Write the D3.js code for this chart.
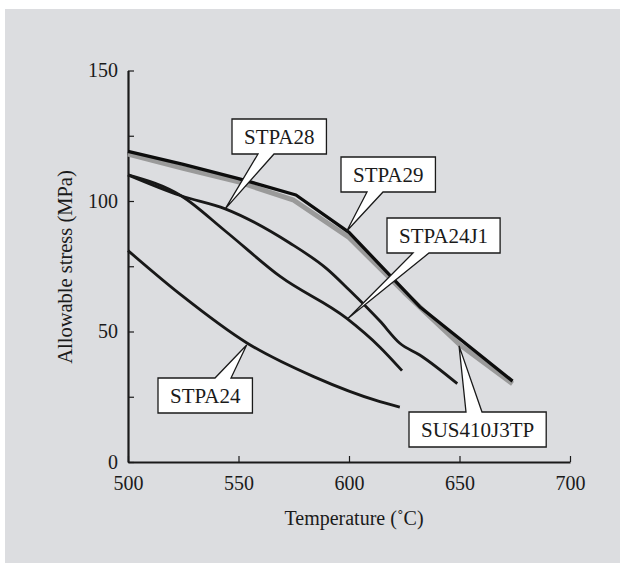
<!DOCTYPE html>
<html>
<head>
<meta charset="utf-8">
<script src="https://d3js.org/d3.v7.min.js"></script>
<style>
  body { margin: 0; background: #fff; }
  text { font-family: "Liberation Serif", "Times New Roman", serif; fill: #1a1a1a; }
</style>
</head>
<body>
<div id="chart"></div>
<script>
// Temperatures and allowable stress (MPa)
var sus410Temp = [500, 525, 550, 575, 600, 625, 650, 674];
var sus410Stress = [118, 112.5, 107.3, 100.3, 86, 65, 45, 30];

var stpa29Temp = [500, 525, 550, 576, 600, 632, 674];
var stpa29Stress = [119, 114, 108.6, 102.3, 88, 59.5, 31];

var stpa28Temp = [500, 524, 544, 573, 590, 600, 614, 623, 632, 649];
var stpa28Stress = [110, 102, 97, 84, 74, 66, 54, 45.5, 41, 30];

var stpa24j1Temp = [500, 524, 544, 569, 599, 614, 624];
var stpa24j1Stress = [110, 102, 88.5, 71, 55, 44, 35];

var stpa24Temp = [500, 524, 554, 584, 614, 623];
var stpa24Stress = [81, 64, 45.5, 32.7, 23.1, 21];

var xTicks = [500, 550, 600, 650, 700];
var yTicks = [0, 25, 50, 75, 100, 125, 150];

// callout labels: name, where the pointer touches the line (temp, stress)
var labelNames = ["STPA28", "STPA29", "STPA24J1", "STPA24", "SUS410J3TP"];
var labelTipTemp = [544, 599, 599.5, 553.7, 649.8];
var labelTipStress = [97, 88.5, 55, 44.8, 44.5];

function init() {
  var w = 620;
  var h = 563;

  var svg = d3.select("#chart")
    .append("svg")
    .attr("width", w)
    .attr("height", h);

  // gray panel
  svg.append("rect")
    .attr("x", 5)
    .attr("y", 9)
    .attr("width", w - 5)
    .attr("height", h - 9)
    .attr("fill", "#dcdde0");

  //Set up Scales
  var xScale = d3.scaleLinear()
    .domain([500, 700])
    .range([128, 570]);
  var yScale = d3.scaleLinear()
    .domain([0, 150])
    .range([462, 70.5]);

  // zip arrays into point lists
  function pts(t, s) {
    return t.map(function (d, i) { return { t: d, s: s[i] }; });
  }

  var series = [
    { pts: pts(sus410Temp, sus410Stress), color: "#9a9a9a", width: 5, curve: d3.curveLinear },
    { pts: pts(stpa29Temp, stpa29Stress), color: "#0d0d0d", width: 3.3, curve: d3.curveLinear },
    { pts: pts(stpa28Temp, stpa28Stress), color: "#181818", width: 2.8, curve: d3.curveMonotoneX },
    { pts: pts(stpa24j1Temp, stpa24j1Stress), color: "#181818", width: 2.8, curve: d3.curveMonotoneX },
    { pts: pts(stpa24Temp, stpa24Stress), color: "#181818", width: 2.8, curve: d3.curveMonotoneX }
  ];

  //Add axes
  var xAxis = d3.axisBottom(xScale)
    .tickValues(xTicks)
    .tickSize(-6)
    .tickSizeOuter(0)
    .tickPadding(14);
  var gx = svg.append("g")
    .attr("transform", "translate(0," + yScale(0) + ")")
    .call(xAxis);

  var yAxis = d3.axisLeft(yScale)
    .tickValues(yTicks)
    .tickSize(-6)
    .tickSizeOuter(0)
    .tickPadding(10)
    .tickFormat(function (d) { return d % 50 === 0 ? d : ""; });
  var gy = svg.append("g")
    .attr("transform", "translate(" + xScale(500) + ",0)")
    .call(yAxis);

  [gx, gy].forEach(function (g) {
    g.select(".domain").attr("stroke", "#1a1a1a").attr("stroke-width", 2.2);
    g.selectAll(".tick line").attr("stroke", "#1a1a1a").attr("stroke-width", 1.2);
    g.selectAll(".tick text")
      .attr("font-size", "20px")
      .attr("fill", "#1a1a1a");
  });

  // axis titles
  svg.append("text")
    .attr("x", 354)
    .attr("y", 525)
    .attr("text-anchor", "middle")
    .style("font-size", "20px")
    .text("Temperature (˚C)");

  svg.append("text")
    .attr("transform", "translate(72," + 267 + ") rotate(-90)")
    .attr("text-anchor", "middle")
    .style("font-size", "20.5px")
    .text("Allowable stress (MPa)");

  //Set up line
  series.forEach(function (s) {
    var line = d3.line()
      .curve(s.curve)
      .x(function (d) { return xScale(d.t); })
      .y(function (d) { return yScale(d.s); });
    svg.append("path")
      .datum(s.pts)
      .attr("fill", "none")
      .attr("stroke", s.color)
      .attr("stroke-width", s.width)
      .attr("stroke-linejoin", "round")
      .attr("d", line);
  });

  // callout boxes: box left/top, which side the wedge leaves, wedge base start
  var boxLayout = [
    { x: 232, y: 119, side: "bottom", b: 258 },
    { x: 341, y: 157, side: "bottom", b: 367 },
    { x: 387, y: 218, side: "bottom", b: 413 },
    { x: 158, y: 378, side: "top", b: 215 },
    { x: 409, y: 412, side: "top", b: 466 }
  ];
  var boxH = 35;
  var baseW = 16;

  labelNames.forEach(function (name, i) {
    var L = boxLayout[i];
    var g = svg.append("g");
    var txt = g.append("text")
      .attr("y", L.y + boxH / 2)
      .attr("dy", "0.35em")
      .style("font-size", "21px")
      .text(name);
    var tw = txt.node().getComputedTextLength();
    var bw = tw + 24;
    txt.attr("x", L.x + bw / 2).attr("text-anchor", "middle");

    var tx = xScale(labelTipTemp[i]);
    var ty = yScale(labelTipStress[i]);
    var x0 = L.x, x1 = L.x + bw, y0 = L.y, y1 = L.y + boxH;
    var p;
    if (L.side === "bottom") {
      p = "M" + x0 + "," + y0 + "H" + x1 + "V" + y1 + "H" + (L.b + baseW) +
        "L" + tx + "," + ty + "L" + L.b + "," + y1 + "H" + x0 + "Z";
    } else {
      p = "M" + x0 + "," + y0 + "H" + L.b + "L" + tx + "," + ty +
        "L" + (L.b + baseW) + "," + y0 + "H" + x1 + "V" + y1 + "H" + x0 + "Z";
    }
    g.insert("path", "text")
      .attr("d", p)
      .attr("fill", "#fff")
      .attr("stroke", "#1a1a1a")
      .attr("stroke-width", 1.3)
      .attr("stroke-linejoin", "miter");
  });
}

window.onload = function () {
  init();
}
</script>
</body>
</html>
